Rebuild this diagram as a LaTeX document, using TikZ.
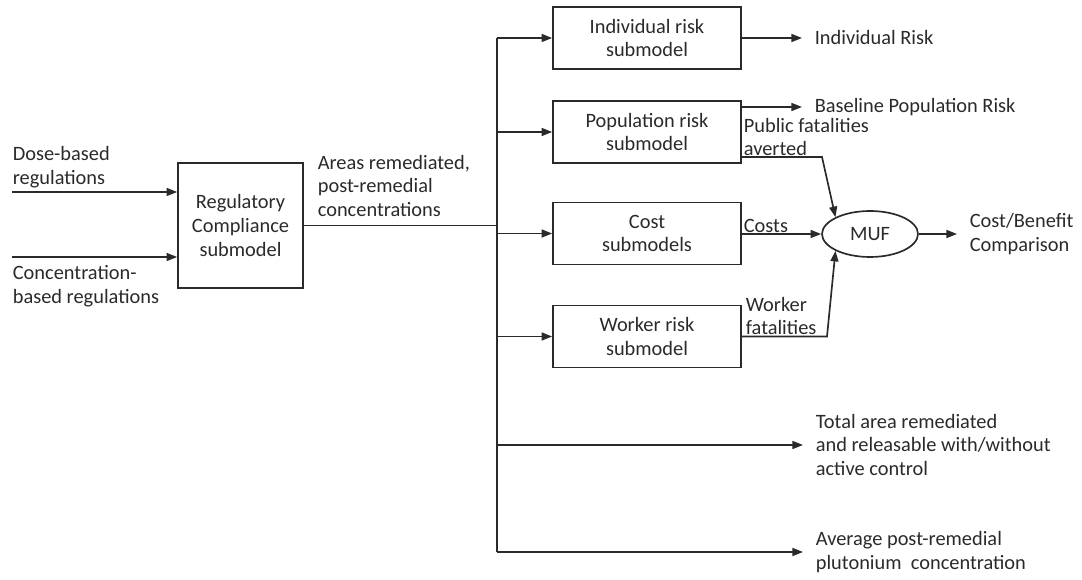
\documentclass[tikz,border=0pt]{standalone}
\usepackage{fontspec}
\setmainfont{Carlito}
\usetikzlibrary{arrows.meta,shapes.geometric}
\definecolor{ink}{HTML}{2A2A2A}
\begin{document}
\begin{tikzpicture}[x=0.02cm,y=-0.02cm,ink,line width=0.95pt,
        font=\fontsize{11.6}{13.6}\selectfont,
        >={Triangle[length=6pt,width=4.5pt]},
        subbox/.style={draw,minimum width=3.76cm,minimum height=1.24cm,inner sep=0pt,align=center},
        lbl/.style={anchor=west,inner sep=0pt,align=left},
        outlbl/.style={anchor=west,inner ysep=0pt,inner xsep=0.24cm,align=left}]
            \useasboundingbox (0,0) rectangle (1082,580);

            \node[draw,minimum width=2.5cm,minimum height=2.5cm,inner sep=0pt,align=center] (reg) at (240.5,225.5) {Regulatory\\Compliance\\submodel};
            \node[subbox] (ind) at (647,38) {Individual risk\\submodel};
            \node[subbox] (pop) at (647,132) {Population risk\\submodel};
            \node[subbox] (cost) at (647,233.5) {Cost\\submodels};
            \node[subbox] (work) at (647,336.5) {Worker risk\\submodel};
            \node[draw,ellipse,minimum width=1.92cm,minimum height=0.92cm,inner sep=0pt] (muf) at (870,234) {MUF};

            \node[lbl] (dose) at (12,167) {Dose-based\\regulations};
            \node[lbl] (conc) at (12,286) {Concentration-\\based regulations};
            \node[lbl] (areas) at (317,186) {Areas remediated,\\post-remedial\\concentrations};
            \node[lbl] (pubf) at (743,137) {Public fatalities\\averted};
            \node[lbl] (costs) at (743,226) {Costs};
            \node[lbl] (workf) at (745,316) {Worker\\fatalities};

            \node[outlbl] (indrisk) at (802,38) {Individual Risk};
            \node[outlbl] (base) at (802,107) {Baseline Population Risk};
            \node[outlbl] (cb) at (957,234) {Cost/Benefit\\Comparison};
            \node[outlbl] (total) at (803,445) {Total area remediated\\and releasable with/without\\active control};
            \node[outlbl] (avg) at (803,552) {Average post-remedial\\plutonium\ \ concentration};

            \coordinate (dosein) at (12,192);
            \coordinate (concin) at (12,257);
            \coordinate (bus) at (497,38);
            \coordinate (pbend) at (822,157);
            \coordinate (wbend) at (827,336.5);

            \draw[->] (dosein) -- (dosein -| reg.west);
            \draw[->] (concin) -- (concin -| reg.west);
            \draw (reg.east) -- (reg.east -| bus);
            \draw (bus) -- (bus |- avg.west);
            \foreach \x in {ind,pop,cost,work}
                \draw[->] (bus |- \x) -- (\x);
            \draw[->] (bus |- total.west) -- (total.west);
            \draw[->] (bus |- avg.west) -- (avg.west);

            \draw[->] (ind) -- (indrisk);
            \draw[->] (pop.east |- base.west) -- (base.west);
            \draw[->] (pop.east |- pbend) -- (pbend) -- (muf.north west);
            \draw[->] (cost.east |- muf) -- (muf);
            \draw[->] (work) -- (wbend) -- (muf.south west);
            \draw[->] (muf) -- (cb);
        \end{tikzpicture}
\end{document}
